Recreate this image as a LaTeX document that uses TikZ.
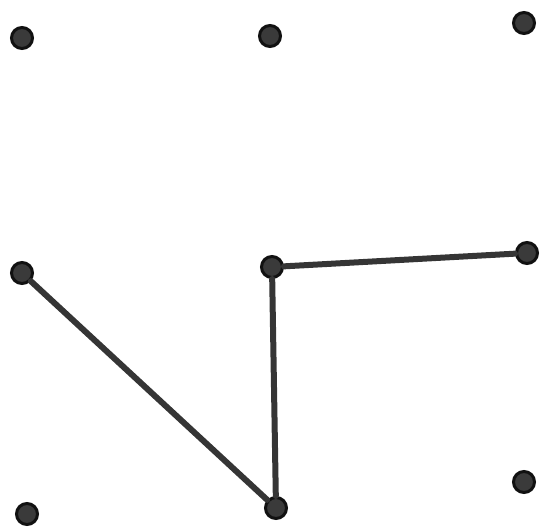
\documentclass[tikz,border=0pt]{standalone}
\usepackage{tikz}
\usetikzlibrary{positioning}
\definecolor{ink}{HTML}{111111}
\definecolor{dotfill}{HTML}{3A3A3A}

\begin{document}
\begin{tikzpicture}[
    x=1pt, y=-1pt,
    dot/.style={circle, draw=ink, fill=dotfill, line width=3pt,
                minimum size=21pt, inner sep=0pt},
    edge/.style={draw=ink!85, line width=6pt, line cap=round},
]
\useasboundingbox (0,0) rectangle (546,530);
% top row
\node[dot] (tl) at (22,38) {};
\node[dot] (tm) at (270,36) {};
\node[dot] (tr) at (524,23) {};
% middle row
\node[dot] (ml) at (22,273) {};
\node[dot] (mm) at (272,267) {};
\node[dot] (mr) at (527,253) {};
% bottom row
\node[dot] (bl) at (27,514) {};
\node[dot] (bm) at (276,508) {};
\node[dot] (br) at (524,482) {};
% path
\draw[edge] (ml) -- (bm);
\draw[edge] (bm) -- (mm);
\draw[edge] (mm) -- (mr);
\end{tikzpicture}
\end{document}
